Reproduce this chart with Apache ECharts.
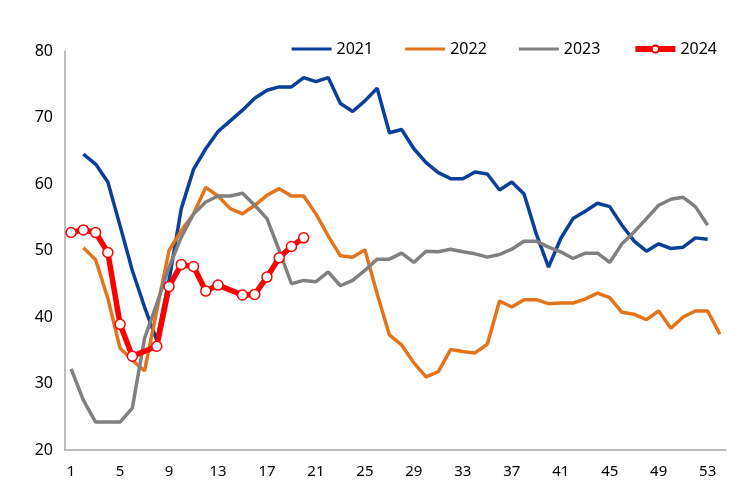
<!DOCTYPE html>
<html>
<head>
<meta charset="utf-8">
<script src="https://cdn.jsdelivr.net/npm/echarts@6/dist/echarts.min.js"></script>
<style>html,body{margin:0;padding:0;background:#fff}#c{width:750px;height:500px}</style>
</head>
<body>
<div id="c"></div>
<script>
const weeks = [];
for (let i = 1; i <= 54; i++) weeks.push(String(i));
const seriesNames = ['2021', '2022', '2023', '2024'];
const s2021 = [null, 64.5, 63, 60.3, 53.7, 47, 41.5, 36.5, 45.5, 56.3, 62.2, 65.3, 67.9, 69.5, 71.1, 72.9, 74.1, 74.6, 74.6, 76, 75.4, 76, 72.1, 70.9, 72.5, 74.4, 67.7, 68.2, 65.3, 63.2, 61.7, 60.8, 60.8, 61.8, 61.5, 59.1, 60.3, 58.5, 52.5, 47.5, 51.8, 54.8, 55.9, 57.1, 56.6, 53.8, 51.4, 49.9, 51, 50.3, 50.5, 51.9, 51.7, null];
const s2022 = [null, 50.4, 48.6, 42.8, 35.3, 33.5, 31.9, 41, 50, 53, 55.5, 59.5, 58.2, 56.3, 55.5, 56.8, 58.3, 59.3, 58.2, 58.2, 55.5, 52.2, 49.2, 49, 50.1, 43.5, 37.3, 35.8, 33.1, 31, 31.8, 35.1, 34.8, 34.6, 35.9, 42.4, 41.5, 42.6, 42.6, 42, 42.1, 42.1, 42.7, 43.6, 42.9, 40.7, 40.4, 39.6, 40.9, 38.3, 40, 40.9, 40.9, 37.4];
const s2023 = [32.2, 27.5, 24.2, 24.2, 24.2, 26.3, 36.8, 42, 47.5, 52, 55.5, 57.3, 58.2, 58.2, 58.6, 56.8, 54.8, 50, 45, 45.5, 45.3, 46.8, 44.7, 45.5, 47, 48.7, 48.7, 49.6, 48.2, 49.9, 49.8, 50.2, 49.8, 49.5, 49, 49.4, 50.2, 51.4, 51.4, 50.5, 49.8, 48.8, 49.6, 49.6, 48.2, 51, 52.8, 54.8, 56.8, 57.7, 58, 56.6, 53.8, null];
const s2024 = [52.7, 53.1, 52.7, 49.7, 38.9, 34.1, null, 35.6, 44.6, 47.9, 47.6, 43.9, 44.8, null, 43.3, 43.4, 46, 48.9, 50.6, 51.9];

const font = '"Noto Sans", "Open Sans", sans-serif';
const lineIcon = 'path://M0,0h0.01v0.01h-0.01z M0,3h40v3h-40z M0,8.99h0.01v0.01h-0.01z';
const chart = echarts.init(document.getElementById('c'), null, {renderer: 'canvas'});
function lineSeries(name, data, color) {
  return {
    name, type: 'line', data, showSymbol: false, symbol: 'none',
    lineStyle: {color, width: 3.5}, itemStyle: {color},
    emphasis: {disabled: true}
  };
}
chart.setOption({
  animation: false,
  textStyle: {fontFamily: font},
  grid: {left: 65, right: 24, top: 51, bottom: 50, containLabel: false},
  legend: {
    data: [
      {name: seriesNames[0], icon: lineIcon},
      {name: seriesNames[1], icon: lineIcon},
      {name: seriesNames[2], icon: lineIcon},
      {name: seriesNames[3], lineStyle: {width: 6}}
    ],
    right: 28, top: 36, itemWidth: 40, itemHeight: 9, itemGap: 32,
    textStyle: {fontSize: 16, color: '#000', fontFamily: font}
  },
  xAxis: {
    type: 'category', data: weeks, boundaryGap: true,
    axisLine: {lineStyle: {color: '#A6A6A6', width: 1.5}},
    axisTick: {show: false},
    axisLabel: {interval: 3, fontSize: 15, color: '#000', margin: 14, fontFamily: font},
    splitLine: {show: false}
  },
  yAxis: {
    type: 'value', min: 20, max: 80, interval: 10,
    axisLine: {show: true, lineStyle: {color: '#A6A6A6', width: 1.5}},
    axisTick: {show: false},
    axisLabel: {fontSize: 16, color: '#000', margin: 12, fontFamily: font},
    splitLine: {show: false}
  },
  series: [
    lineSeries('2021', s2021, '#0B3F9A'),
    lineSeries('2022', s2022, '#E4741A'),
    lineSeries('2023', s2023, '#808080'),
    {
      name: '2024', type: 'line', data: s2024, connectNulls: true,
      symbol: 'circle', symbolSize: 10, showSymbol: true, showAllSymbol: true,
      lineStyle: {color: '#FF0000', width: 5.5},
      itemStyle: {color: '#FFFFFF', borderColor: '#FF0000', borderWidth: 1.5},
      emphasis: {disabled: true}, z: 5
    }
  ]
});
</script>
</body>
</html>
